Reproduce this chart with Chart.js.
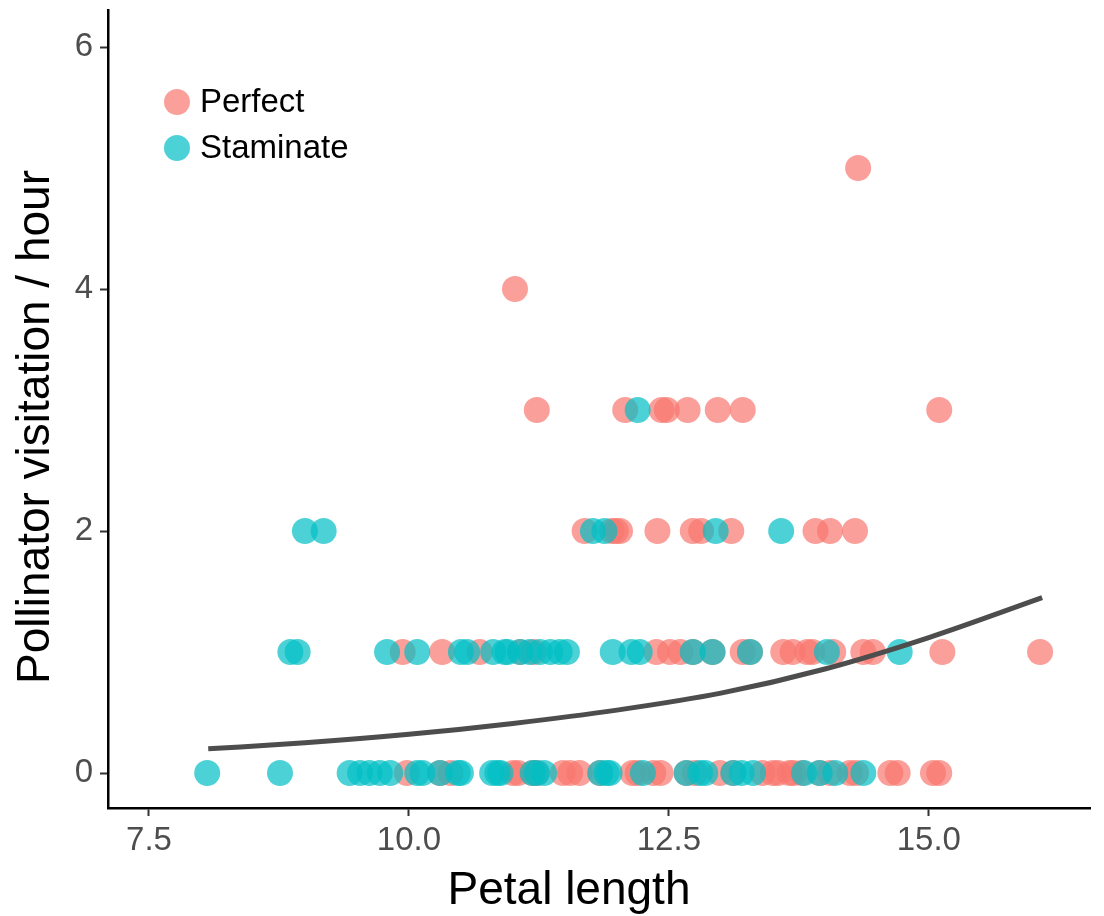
<!DOCTYPE html>
<html lang="en">

<head>
    <meta charset="UTF-8">
    <title>Pollinator visitation</title>
    <script src="https://cdn.jsdelivr.net/npm/chart.js"></script>
    <style>
        body { margin: 0; background: #fff; }
        #chart { display: block; }
    </style>
</head>

<body>
    <canvas id="chart" width="1104" height="916"></canvas>

    <script>
        // Petal length of flowers, grouped by visits/hour
        const perfect0 = [9.98, 10.3, 10.4, 11.0, 11.05, 11.19, 11.23, 11.48, 11.55, 11.64, 11.84, 12.15, 12.2, 12.35, 12.42,
            12.67, 12.75, 12.99, 13.12, 13.4, 13.5, 13.55, 13.66, 13.7, 13.78, 13.95, 14.05, 14.24, 14.3, 14.63, 14.7, 15.04, 15.1];
        const perfect1 = [9.94, 10.32, 10.68, 11.07, 11.2, 12.38, 12.51, 12.61, 12.73, 12.92, 13.21, 13.28, 13.6, 13.69,
            13.83, 13.88, 14.08, 14.37, 14.46, 15.13, 16.07];
        const perfect2 = [11.69, 11.95, 11.99, 12.03, 12.39, 12.73, 12.81, 13.1, 13.91, 14.05, 14.29];
        const perfect3 = [11.23, 12.08, 12.43, 12.48, 12.68, 12.97, 13.21, 15.1];
        const perfect4 = [11.02];
        const perfect5 = [14.32];

        const staminate0 = [8.06, 8.76, 9.43, 9.53, 9.62, 9.72, 9.82, 10.08, 10.13, 10.3, 10.47, 10.5, 10.8, 10.85, 10.88,
            11.19, 11.23, 11.3, 11.84, 11.9, 11.93, 12.25, 12.67, 12.8, 12.85, 13.12, 13.2, 13.31, 13.8, 13.95, 14.1, 14.37];
        const staminate1 = [8.86, 8.93, 9.79, 10.08, 10.5, 10.56, 10.81, 10.92, 10.95, 11.07, 11.16, 11.26, 11.36, 11.45,
            11.52, 11.96, 12.14, 12.22, 12.73, 12.92, 13.28, 14.02, 14.72];
        const staminate2 = [9.0, 9.18, 11.77, 11.88, 12.95, 13.58];
        const staminate3 = [12.2];

        // fitted curve, read at a few x positions
        const fitX = [8.07, 9.0, 10.0, 11.0, 12.0, 13.0, 14.0, 15.0, 16.09];
        const fitY = [0.20, 0.25, 0.32, 0.41, 0.52, 0.66, 0.86, 1.12, 1.45];

        const xTicks = [7.5, 10.0, 12.5, 15.0];
        const yTicks = [0, 2, 4, 6];

        const perfectColor = 'rgba(248, 118, 109, 0.7)';
        const staminateColor = 'rgba(0, 191, 196, 0.7)';

        function toPoints(levels) {
            const pts = [];
            levels.forEach((xs, visits) => {
                xs.forEach(x => pts.push({ x: x, y: visits }));
            });
            return pts;
        }

        const perfectPts = toPoints([perfect0, perfect1, perfect2, perfect3, perfect4, perfect5]);
        const staminatePts = toPoints([staminate0, staminate1, staminate2, staminate3]);
        const fitPts = fitX.map((x, i) => ({ x: x, y: fitY[i] }));

        const FONT = "'Liberation Sans', Arial, Helvetica, sans-serif";

        // legend inside the plot (top-left) and the two axis titles
        const extras = {
            id: 'extras',
            afterDraw(chart) {
                const c = chart.ctx;
                const a = chart.chartArea;
                const items = [['Perfect', perfectColor], ['Staminate', staminateColor]];
                c.save();
                c.font = '33px ' + FONT;
                c.textBaseline = 'middle';
                items.forEach((it, i) => {
                    const y = a.top + 92 + i * 46;
                    c.beginPath();
                    c.arc(a.left + 69, y, 13, 0, Math.PI * 2);
                    c.fillStyle = it[1];
                    c.fill();
                    c.fillStyle = '#000';
                    c.fillText(it[0], a.left + 92, y + 1);
                });

                c.font = '46px ' + FONT;
                c.fillStyle = '#000';
                c.textAlign = 'center';
                c.textBaseline = 'alphabetic';
                c.fillText('Petal length', 569, 904);

                c.translate(49, 427);
                c.rotate(-Math.PI / 2);
                c.fillText('Pollinator visitation / hour', 0, 0);
                c.restore();
            }
        };

        const ctx = document.getElementById('chart').getContext('2d');
        new Chart(ctx, {
            type: 'scatter',
            data: {
                datasets: [
                    {
                        label: 'fit',
                        data: fitPts,
                        showLine: true,
                        borderColor: '#4d4d4d',
                        borderWidth: 5,
                        pointRadius: 0,
                        cubicInterpolationMode: 'monotone',
                        fill: false
                    },
                    {
                        label: 'Staminate',
                        data: staminatePts,
                        backgroundColor: staminateColor,
                        borderWidth: 0,
                        pointRadius: 13
                    },
                    {
                        label: 'Perfect',
                        data: perfectPts,
                        backgroundColor: perfectColor,
                        borderWidth: 0,
                        pointRadius: 13
                    }
                ]
            },
            options: {
                responsive: false,
                animation: false,
                layout: { autoPadding: false, padding: { top: 10, right: 14, left: 0, bottom: 0 } },
                plugins: {
                    legend: { display: false },
                    tooltip: { enabled: false }
                },
                scales: {
                    x: {
                        type: 'linear',
                        min: 7.106,
                        max: 16.55,
                        afterBuildTicks: s => { s.ticks = xTicks.map(v => ({ value: v })); },
                        afterFit: s => { s.height = 108; s.paddingLeft = 0; s.paddingRight = 0; },
                        border: { display: true, color: '#000', width: 2.5 },
                        grid: { drawOnChartArea: false, drawTicks: true, tickLength: 8, tickColor: '#333', tickWidth: 2 },
                        ticks: {
                            color: '#4d4d4d',
                            padding: 5,
                            font: { family: FONT, size: 33 },
                            callback: v => v.toFixed(1)
                        }
                    },
                    y: {
                        type: 'linear',
                        min: -0.289,
                        max: 6.306,
                        afterBuildTicks: s => { s.ticks = yTicks.map(v => ({ value: v })); },
                        afterFit: s => { s.width = 108; s.paddingTop = 0; s.paddingBottom = 0; },
                        border: { display: true, color: '#000', width: 2.5 },
                        grid: { drawOnChartArea: false, drawTicks: true, tickLength: 8, tickColor: '#333', tickWidth: 2 },
                        ticks: {
                            color: '#4d4d4d',
                            padding: 7,
                            font: { family: FONT, size: 33 }
                        }
                    }
                }
            },
            plugins: [extras]
        });
    </script>
</body>

</html>
